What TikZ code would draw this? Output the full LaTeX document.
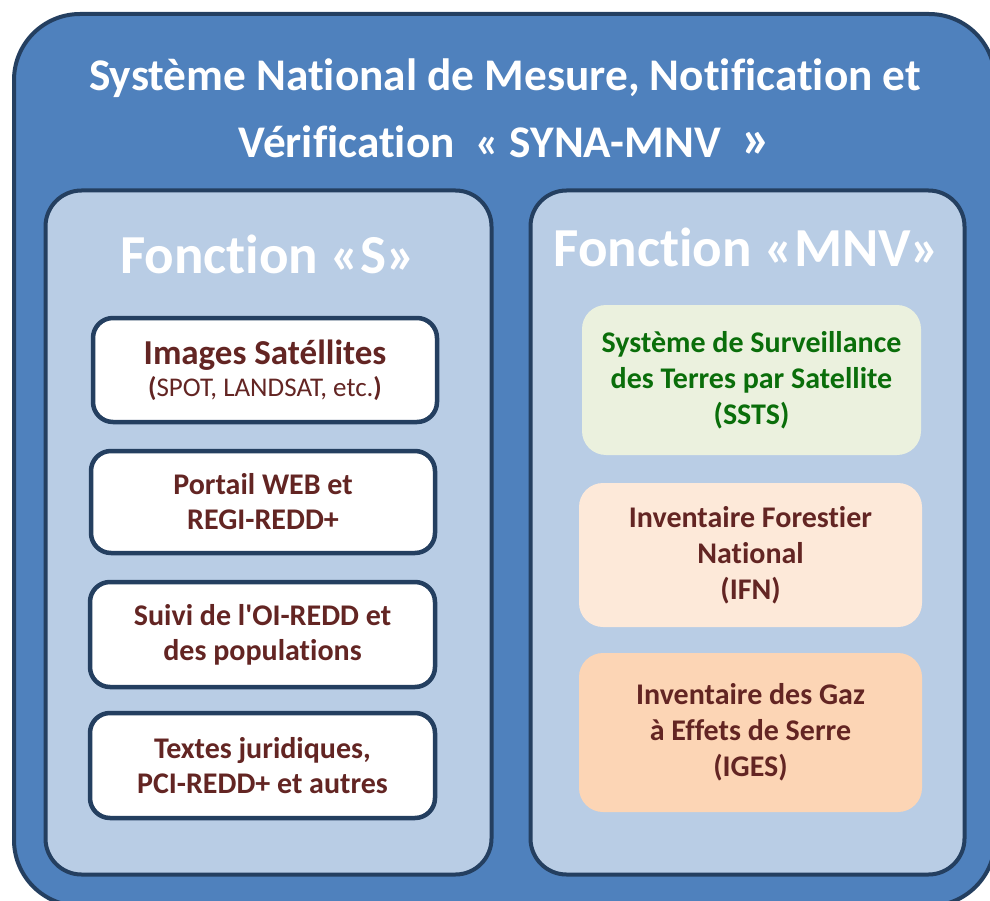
\documentclass[tikz,border=0pt]{standalone}
\usepackage{fontspec}
\setmainfont{Carlito}[Ligatures={TeX,NoCommon,NoContextual},Contextuals=NoAlternate]
\definecolor{outerblue}{HTML}{4F81BD}
\definecolor{navy}{HTML}{243F60}
\definecolor{panelblue}{HTML}{B9CDE5}
\definecolor{darkred}{HTML}{632523}
\definecolor{dgreen}{HTML}{0A6E0A}
\definecolor{greenfill}{HTML}{EBF1DE}
\definecolor{peachlight}{HTML}{FDE9D9}
\definecolor{peach}{HTML}{FCD5B5}
\tikzset{
  outerbox/.style={draw=navy, fill=outerblue, line width=4pt, rounded corners=66pt, inner sep=0pt, outer sep=0pt},
  panelbox/.style={draw=navy, fill=panelblue, line width=4pt, rounded corners=36pt, inner sep=0pt, outer sep=0pt},
  whitebox/.style={draw=navy, fill=white, line width=4.5pt, rounded corners=20pt, inner sep=0pt, outer sep=0pt,
     text=darkred, align=center, font=\bfseries\fontsize{30}{35}\selectfont},
  colbox/.style={draw=none, rounded corners=24pt, inner sep=0pt, outer sep=0pt,
     text=darkred, align=center, font=\bfseries\fontsize{30}{36}\selectfont},
  titletext/.style={text=white, align=center, inner sep=0pt, font=\bfseries\fontsize{45.3}{67}\selectfont},
  headtext/.style={text=white, inner sep=0pt, anchor=base, font=\bfseries\fontsize{55}{60}\selectfont}
}
\begin{document}
\begin{tikzpicture}[x=1pt,y=-1pt]
\useasboundingbox (0,0) rectangle (990,901);
\clip (0,0) rectangle (990,901);
\node[outerbox, minimum width=981pt, minimum height=892pt] (outer) at (504.5,460) {};
\node[titletext] (title) at (505,108) {Système National de Mesure, Notification et\\Vérification~ « SYNA-MNV ~{\fontsize{56}{60}\selectfont »}};
\node[panelbox, minimum width=446pt, minimum height=684pt] (panelS) at (268.5,532.5) {};
\node[panelbox, minimum width=434pt, minimum height=684pt] (panelM) at (747.5,532.5) {};
\node[headtext] (headS) at (268,273) {Fonction «S»};
\node[headtext] (headM) at (747,267) {Fonction «MNV»};
\node[whitebox, minimum width=344pt, minimum height=104pt] (imgs) at (265,370)
  {{\fontsize{35}{36}\selectfont Images Satéllites}\\[-3pt]{\fontsize{27}{30}\selectfont(\mdseries SPOT, LANDSAT, etc.\bfseries)}};
\node[whitebox, minimum width=344pt, minimum height=102pt] (portail) at (263,502) {Portail WEB et\\REGI-REDD+};
\node[whitebox, minimum width=345pt, minimum height=105pt] (suivi) at (262.5,634.5) {Suivi de l{\addfontfeatures{Ligatures=TeXOff}'}OI-REDD et\\des populations};
\node[whitebox, minimum width=345pt, minimum height=105pt] (textes) at (262.5,765.5) {Textes juridiques,\\PCI-REDD+ et autres};
\node[colbox, fill=greenfill, text=dgreen, minimum width=339pt, minimum height=150pt] (ssts) at (751.5,380)
  {Système de Surveillance\\des Terres par Satellite\\(SSTS)};
\node[colbox, fill=peachlight, minimum width=343pt, minimum height=144pt] (ifn) at (750.5,555)
  {Inventaire Forestier\\National\\(IFN)};
\node[colbox, fill=peach, minimum width=343pt, minimum height=159pt] (iges) at (750.5,732.5)
  {Inventaire des Gaz\\à Effets de Serre\\(IGES)};
\end{tikzpicture}
\end{document}
